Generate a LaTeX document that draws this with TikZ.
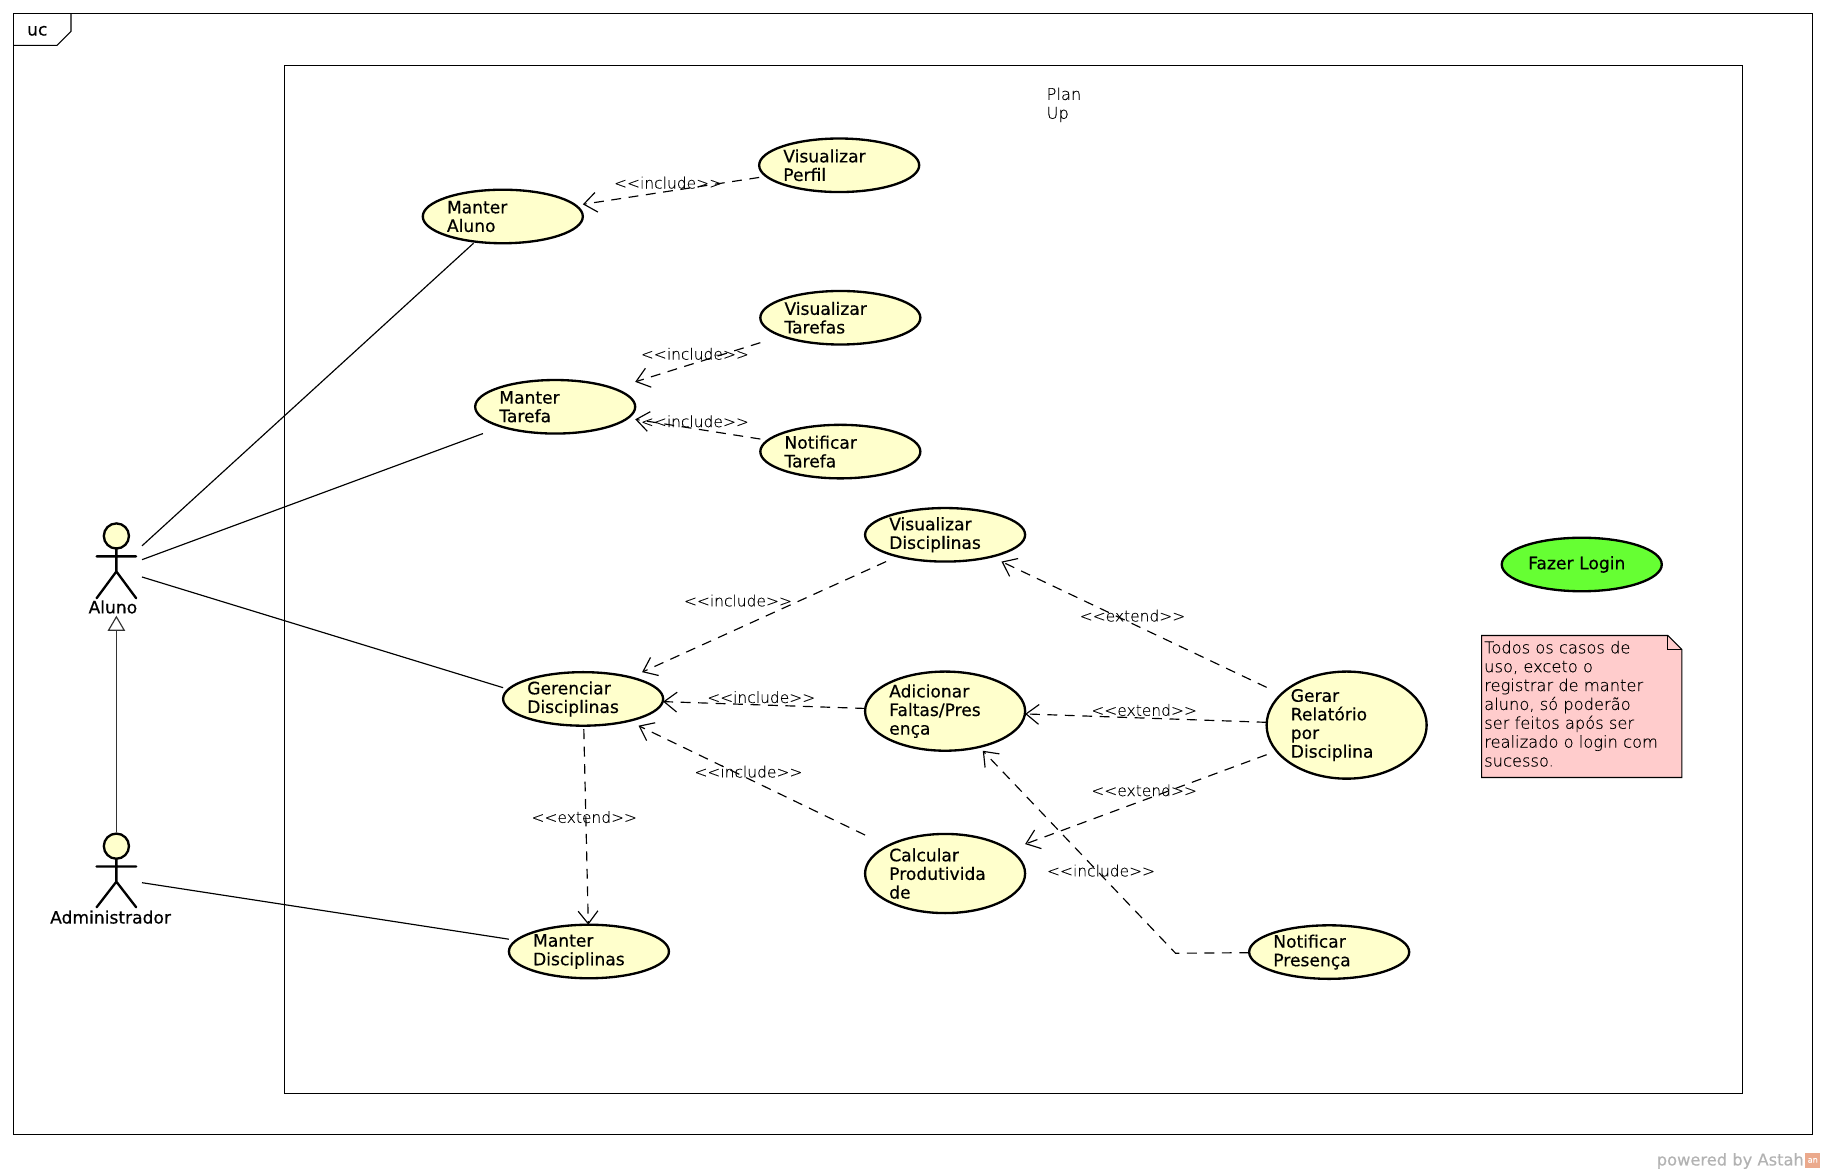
\documentclass[tikz,border=0pt]{standalone}
\usepackage{fontspec}
\newfontfamily\ucfont[FakeBold=0.45]{DejaVu Sans}
\newfontfamily\thinfont[FakeBold=0.12]{DejaVu Sans ExtraLight}
\usetikzlibrary{shapes,arrows,arrows.meta,fit}
\definecolor{ucyellow}{HTML}{FFFFCC}
\definecolor{ucgreen}{HTML}{66FF33}
\definecolor{notepink}{HTML}{FFCCCC}
\definecolor{logosalmon}{HTML}{EBA98C}
\tikzstyle{usecase} = [draw, fill=ucyellow, ellipse, line width=2pt, inner sep=0pt, outer sep=0pt,
    text width=96pt, minimum width=137.5pt, minimum height=46pt, align=left,
    font=\ucfont\fontsize{14.7}{16}\selectfont]
\tikzstyle{ucbox} = [rectangle, inner sep=0pt, outer sep=0pt]
\tikzstyle{ann} = [font=\thinfont\fontsize{13.3}{16}\selectfont, text=black, inner sep=0pt]
\tikzstyle{plain} = [font=\thinfont\fontsize{14}{16.2}\selectfont, text=black, inner sep=0pt, anchor=north west, align=left]
\tikzstyle{actor} = [rectangle, minimum width=44pt, minimum height=80pt, inner sep=0pt, outer sep=0pt]
\tikzstyle{actorline} = [line width=2pt, line cap=round]
\tikzstyle{actorname} = [font=\ucfont\fontsize{14.7}{16}\selectfont, inner sep=0pt]
\tikzstyle{assoc} = [line width=1pt]
\tikzstyle{dep} = [line width=1pt, dash pattern=on8.5pt off6.5pt, arrows={-{Straight Barb[length=11pt,width=17pt]}}]
\tikzstyle{gener} = [line width=1pt, black!80, arrows={-{Triangle[open,length=13pt,width=15pt,fill=white]}}]

\begin{document}
\begin{tikzpicture}[x=1pt,y=-1pt]
\useasboundingbox (0,0) rectangle (1568,1007.8);

% frames
\draw[line width=0.9pt] (12,12) rectangle (1557,974.5);
\draw[line width=0.9pt] (12,39) -- (49,39) -- (61,27) -- (61,12);
\node[actorname, name=frame] at (32,26.5) {uc};
\draw[line width=0.9pt] (244.4,56) rectangle (1497,939.5);
\node[plain, name=system] at (899,75) {Plan\\Up};

% use cases
\node[usecase, name=manterAluno] at (432,186) {Manter\\Aluno};
\node[usecase, name=verPerfil] at (721,142) {Visualizar\\Perfil};
\node[usecase, name=verTarefas] at (722,273) {Visualizar\\Tarefas};
\node[usecase, name=manterTarefa] at (477,349.5) {Manter\\Tarefa};
\node[usecase, name=notTarefa] at (722,388) {Notificar\\Tarefa};
\node[usecase, name=verDisc] at (812,459.5) {Visualizar\\Disciplinas};
\node[usecase, name=login, fill=ucgreen] at (1359,485) {\hspace*{2pt}\raisebox{-1.5pt}{Fazer Login}};
\node[usecase, name=gerDisc] at (501,600.5) {Gerenciar\\Disciplinas};
\node[usecase, name=faltas, minimum height=68pt] at (812,611) {Adicionar\\Faltas/Pres\\ença};
\node[usecase, name=relatorio, minimum height=92pt] at (1157,623) {Gerar\\Relatório\\por\\Disciplina};
\node[usecase, name=produt, minimum height=68pt] at (812,750.5) {Calcular\\Produtivida\\de};
\node[usecase, name=manterDisc] at (506,817.5) {Manter\\Disciplinas};
\node[usecase, name=notPres] at (1142,818) {Notificar\\Presença};

% connectors stop at the box round each use case
\foreach \uc in {manterAluno,verPerfil,verTarefas,manterTarefa,notTarefa,verDisc,gerDisc,faltas,relatorio,produt,manterDisc,notPres}
  \node[ucbox, fit=(\uc), name=b-\uc] {};

% actors
\node[actor, name=aluno] at (100,489) {};
\draw[actorline, fill=ucyellow] (100,460.5) circle (10.8);
\draw[actorline] (100,471) -- (100,491) (83,478) -- (117,478) (83,514) -- (100,491) -- (117,514);
\node[actorname, name=alunoName] at (97,521.5) {Aluno};

\node[actor, name=admin] at (100,755) {};
\draw[actorline, fill=ucyellow] (100,727) circle (10.8);
\draw[actorline] (100,738) -- (100,757.5) (83,744.5) -- (117,744.5) (83,779.5) -- (100,757.5) -- (117,779.5);
\node[actorname, name=adminName] at (95,788) {Administrador};

% associations
\draw[assoc] (aluno) -- (b-manterAluno);
\draw[assoc] (aluno) -- (b-manterTarefa);
\draw[assoc] (aluno) -- (b-gerDisc.172);
\draw[assoc] (admin) -- (b-manterDisc);
\draw[gener] (admin) -- (aluno);

% dependencies
\draw[dep] (b-verPerfil) -- (b-manterAluno);
\draw[dep] (b-verTarefas) -- (b-manterTarefa);
\draw[dep] (b-notTarefa) -- (b-manterTarefa);
\draw[dep] (b-verDisc) -- (b-gerDisc);
\draw[dep] (b-faltas) -- (b-gerDisc);
\draw[dep] (b-produt) -- (b-gerDisc);
\draw[dep, shorten <=3pt] (b-gerDisc) -- (b-manterDisc);
\draw[dep] (b-relatorio) -- (b-verDisc);
\draw[dep] (b-relatorio) -- (b-faltas);
\draw[dep] (b-relatorio) -- (b-produt);
\coordinate (bend) at (1010,819);
\draw[dep] (b-notPres) -- (bend) -- (b-faltas);

\node[ann, name=inc1] at (574,157) {<<include>>};
\node[ann, name=inc2] at (597,304) {<<include>>};
\node[ann, name=inc3] at (597,362) {<<include>>};
\node[ann, name=inc4] at (634,516) {<<include>>};
\node[ann, name=inc5] at (654,599) {<<include>>};
\node[ann, name=inc6] at (643,663) {<<include>>};
\node[ann, name=ext1] at (502,702) {<<extend>>};
\node[ann, name=ext2] at (973,529) {<<extend>>};
\node[ann, name=ext3] at (983,610) {<<extend>>};
\node[ann, name=ext4] at (983,679) {<<extend>>};
\node[ann, name=inc7] at (946,748) {<<include>>};

% note
\draw[line width=0.9pt, fill=notepink] (1273,546) -- (1433,546) -- (1445,558) -- (1445,668) -- (1273,668) -- cycle;
\draw[line width=0.9pt] (1433,546) -- (1433,558) -- (1445,558);
\node[plain, name=note] at (1275,550.5) {Todos os casos de\\uso, exceto o\\registrar de manter\\aluno, só poderão\\ser feitos após ser\\realizado o login com\\sucesso.};

% footer
\node[name=footer, anchor=east, inner sep=0pt, text=black!30, font=\ucfont\fontsize{14}{16}\selectfont] at (1550,997.5) {powered by Astah};
\node[name=logo, fill=logosalmon, text=white, minimum width=13pt, minimum height=13pt, inner sep=0pt, font=\ucfont\fontsize{7}{7}\selectfont] at (1557.5,997) {\raisebox{-2.5pt}{an}};
\end{tikzpicture}
\end{document}
